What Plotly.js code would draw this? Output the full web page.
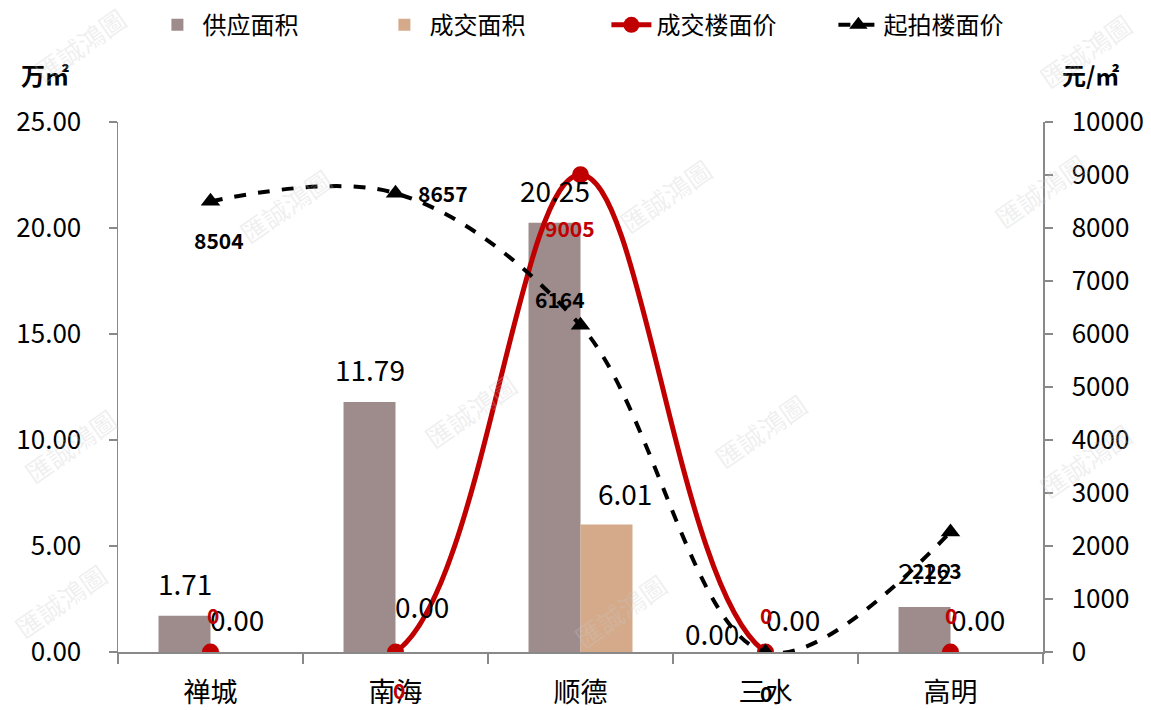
<!DOCTYPE html>
<html>
<head>
<meta charset="utf-8">
<script src="https://cdn.plot.ly/plotly-3.0.1.min.js"></script>
<style>html,body{margin:0;padding:0;background:#fff;}#chart{width:1151px;height:710px;}</style>
</head>
<body>
<div id="chart"></div>
<script>
const categories = ['禅城', '南海', '顺德', '三水', '高明'];
const supplyArea = [1.71, 11.79, 20.25, 0.00, 2.12];
const dealArea = [0.00, 0.00, 6.01, 0.00, 0.00];
const dealPrice = [0, 0, 9005, 0, 0];
const startPrice = [8504, 8657, 6164, 0, 2263];
const seriesNames = ['供应面积', '成交面积', '成交楼面价', '起拍楼面价'];
const leftUnit = '万㎡';
const rightUnit = '元/㎡';

// label offsets in pixels [xshift, yshift]
const supplyOff = [[-26,33],[-26,33],[-26,33],[-54,19],[-26,35]];
const dealOff = [[26,33],[26,46],[44,32],[27,33],[27,33]];
const dealPriceOff = [[2,37],[3,-38],[-11,-53],[0,37],[0,37]];
const startPriceOff = [[8,-39],[47,0],[-21,26],[0,-41],[-14,-38]];

const FONT = '"Noto Sans CJK SC", "Noto Sans", sans-serif';
const AX = '#898989';

const traces = [
  {type:'bar', name:seriesNames[0], x:categories, y:supplyArea, marker:{color:'#9E8B8C'}, yaxis:'y'},
  {type:'bar', name:seriesNames[1], x:categories, y:dealArea, marker:{color:'#D5AA8A'}, yaxis:'y'},
  {type:'scatter', mode:'lines+markers', name:seriesNames[2], x:categories, y:dealPrice, yaxis:'y2',
   line:{color:'#C00000', width:5, shape:'spline', smoothing:1}, marker:{symbol:'circle', size:17, color:'#C00000'}},
  {type:'scatter', mode:'lines+markers', name:seriesNames[3], x:categories, y:startPrice, yaxis:'y2',
   line:{color:'#000000', width:4, dash:'dash', shape:'spline', smoothing:1}, marker:{symbol:'triangle-up', size:17, color:'#000000'}}
];

const ann = [];
categories.forEach((c,i)=>{
  ann.push({x:c, y:supplyArea[i], xref:'x', yref:'y', text:supplyArea[i].toFixed(2), showarrow:false,
    xshift:supplyOff[i][0], yshift:supplyOff[i][1], font:{size:28, color:'#000', family:FONT}});
  ann.push({x:c, y:dealArea[i], xref:'x', yref:'y', text:dealArea[i].toFixed(2), showarrow:false,
    xshift:dealOff[i][0], yshift:dealOff[i][1], font:{size:28, color:'#000', family:FONT}});
  ann.push({x:c, y:dealPrice[i], xref:'x', yref:'y2', text:'<b>'+dealPrice[i]+'</b>', showarrow:false,
    xshift:dealPriceOff[i][0], yshift:dealPriceOff[i][1], font:{size:21, color:'#C00000', family:FONT}});
  ann.push({x:c, y:startPrice[i], xref:'x', yref:'y2', text:'<b>'+startPrice[i]+'</b>', showarrow:false,
    xshift:startPriceOff[i][0], yshift:startPriceOff[i][1], font:{size:21, color:'#000', family:FONT}});
});
ann.push({xref:'paper', yref:'paper', x:(45-118)/925, y:(652-75)/530, xanchor:'center', yanchor:'middle', text:'<b>'+leftUnit+'</b>', showarrow:false, font:{size:24, color:'#000', family:FONT}});
ann.push({xref:'paper', yref:'paper', x:(1090-118)/925, y:(652-75)/530, xanchor:'center', yanchor:'middle', text:'<b>'+rightUnit+'</b>', showarrow:false, font:{size:24, color:'#000', family:FONT}});

// faint watermarks
const wm = [[80,45],[285,205],[665,195],[1085,50],[1040,190],[470,410],[760,430],[70,445],[1085,460],[620,610],[60,600]];
wm.forEach(p=>{
  ann.push({xref:'paper', yref:'paper', x:(p[0]-118)/925, y:(652-p[1])/530, xanchor:'center', yanchor:'middle', text:'匯誠鴻圖', showarrow:false,
    textangle:-35, font:{size:26, color:'rgba(200,200,200,0.28)', family:FONT}});
});

const layout = {
  width:1151, height:710,
  margin:{l:118, r:108, t:122, b:58, autoexpand:false},
  paper_bgcolor:'#fff', plot_bgcolor:'#fff',
  font:{family:FONT, color:'#000'},
  barmode:'group', bargap:0.438, bargroupgap:0,
  showlegend:true,
  legend:{orientation:'h', x:0.528, xanchor:'center', y:1.225, yanchor:'top', font:{size:24, family:FONT}, itemwidth:40, entrywidth:172, traceorder:'normal'},
  xaxis:{type:'category', showline:true, linecolor:AX, linewidth:1.5, ticks:'outside', tickson:'boundaries', ticklen:10, tickcolor:AX, tickwidth:1.5,
    tickfont:{size:27, family:FONT}, showgrid:false, zeroline:false, ticklabelstandoff:16},
  yaxis:{range:[0,25], dtick:5, tickformat:'.2f', showline:true, linecolor:AX, linewidth:1.5, ticks:'outside', ticklen:8, tickcolor:AX, tickwidth:1.5,
    tickfont:{size:26, family:FONT}, showgrid:false, zeroline:false, ticklabelstandoff:22},
  yaxis2:{range:[0,10000], dtick:1000, tickformat:'d', overlaying:'y', side:'right', showline:true, linecolor:AX, linewidth:1.5, ticks:'outside', ticklen:8, tickcolor:AX, tickwidth:1.5,
    tickfont:{size:26, family:FONT}, showgrid:false, zeroline:false, ticklabelstandoff:14},
  annotations:ann
};
Plotly.newPlot('chart', traces, layout, {displayModeBar:false, staticPlot:true});
</script>
</body>
</html>
